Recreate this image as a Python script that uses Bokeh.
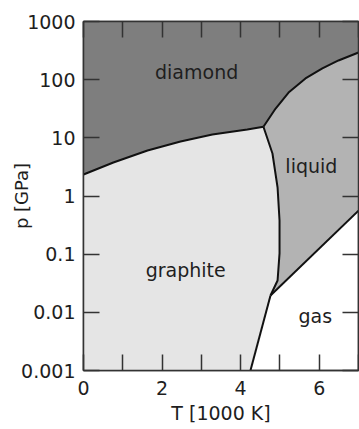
from bokeh.plotting import figure
from bokeh.models import FixedTicker, LinearAxis, LogAxis, Range1d, ColumnDataSource
from bokeh.core.properties import value
from bokeh.embed import file_html
from bokeh.resources import INLINE

# ---- data: phase boundaries (T in 1000 K, p in GPa) ----
dg_T = [0.0, 0.76, 1.63, 2.47, 3.28, 4.17, 4.58]          # diamond / graphite
dg_p = [2.34, 3.77, 6.05, 8.65, 11.4, 13.9, 15.5]
dl_T = [4.58, 4.89, 5.22, 5.65, 6.08, 6.49, 7.0]          # diamond / liquid
dl_p = [15.5, 31.9, 60.0, 105.0, 156.0, 214.0, 293.0]
gl_T = [4.58, 4.81, 4.94, 4.99, 4.99, 4.94, 4.76]         # graphite / liquid
gl_p = [15.5, 5.38, 1.40, 0.379, 0.103, 0.0353, 0.0195]
gg_T = [4.76, 4.25]                                        # graphite / gas
gg_p = [0.0195, 0.001]
lg_T = [4.76, 7.0]                                         # liquid / gas
lg_p = [0.0195, 0.56]

phase_names = ["diamond", "liquid", "graphite", "gas"]
label_T = [2.88, 5.80, 2.60, 5.90]
label_p = [133.0, 3.34, 0.0525, 0.0085]

x_ticks = [0, 1, 2, 3, 4, 5, 6, 7]
x_labels = {0: "0", 1: "", 2: "2", 3: "", 4: "4", 5: "", 6: "6", 7: ""}
y_ticks = [0.001, 0.01, 0.1, 1, 10, 100, 1000]
y_labels = {0.001: "0.001", 0.01: "0.01", 0.1: "0.1", 1: "1", 10: "10", 100: "100", 1000: "1000"}

T_MIN, T_MAX = 0, 7
P_MIN, P_MAX = 0.001, 1000

FONT = "DejaVu Sans"
FS = "19px"
TXT = "#1e1e1e"
AX = "#333333"

p = figure(width=359, height=429, output_backend="svg", toolbar_location=None,
           x_range=Range1d(T_MIN, T_MAX), y_range=Range1d(P_MIN, P_MAX),
           y_axis_type="log", min_border_left=83, min_border_right=1,
           min_border_top=21, min_border_bottom=59)
p.grid.visible = False
p.background_fill_color = "white"
p.border_fill_color = "white"
p.outline_line_color = AX
p.outline_line_width = 1.5

# ---- regions ----
diamond_x = [T_MIN] + dg_T + dl_T[1:] + [T_MAX]
diamond_y = [P_MAX] + dg_p + dl_p[1:] + [P_MAX]
graphite_x = [T_MIN] + dg_T + gl_T[1:] + gg_T[1:]
graphite_y = [P_MIN] + dg_p + gl_p[1:] + gg_p[1:]
liquid_x = dl_T + lg_T[::-1] + gl_T[::-1][1:]
liquid_y = dl_p + lg_p[::-1] + gl_p[::-1][1:]

p.patches(xs=[diamond_x, graphite_x, liquid_x], ys=[diamond_y, graphite_y, liquid_y],
          fill_color=["#7e7e7e", "#e5e5e5", "#b3b3b3"], line_color=None, level="underlay")

p.multi_line(xs=[dg_T, dl_T, gl_T, gg_T, lg_T], ys=[dg_p, dl_p, gl_p, gg_p, lg_p],
             line_color="#111111", line_width=2)

src = ColumnDataSource(dict(x=label_T, y=label_p, t=phase_names))
p.text(x="x", y="y", text="t", source=src, text_align="center", text_baseline="middle",
       text_font=value(FONT), text_font_size=FS, text_color=TXT)

# ---- axes ----
def style(ax, labels=True):
    ax.level = "overlay"
    ax.major_tick_in = 16
    ax.major_tick_out = 0
    ax.minor_tick_in = 0
    ax.minor_tick_out = 0
    ax.major_tick_line_color = AX
    ax.major_tick_line_width = 1.5
    ax.axis_line_color = AX
    ax.axis_line_width = 1.5
    if labels:
        ax.major_label_text_font = FONT
        ax.major_label_text_font_size = FS
        ax.major_label_text_color = TXT
        ax.axis_label_text_font = FONT
        ax.axis_label_text_font_size = FS
        ax.axis_label_text_font_style = "normal"
        ax.axis_label_text_color = TXT
    else:
        ax.major_label_text_font_size = "0px"
        ax.major_label_standoff = 0

xa = p.xaxis[0]
xa.ticker = FixedTicker(ticks=x_ticks, minor_ticks=[])
xa.major_label_overrides = x_labels
xa.axis_label = "T [1000 K]"
style(xa)
xa.major_label_standoff = 10
xa.axis_label_standoff = 4

ya = p.yaxis[0]
ya.ticker = FixedTicker(ticks=y_ticks, minor_ticks=[])
ya.major_label_overrides = y_labels
ya.axis_label = "p [GPa]"
style(ya)
ya.axis_label_text_font_size = "18px"
ya.major_label_standoff = 8
ya.axis_label_standoff = -14

top = LinearAxis(ticker=FixedTicker(ticks=x_ticks, minor_ticks=[]))
style(top, labels=False)
top.major_label_overrides = {t: "" for t in x_ticks}
p.add_layout(top, "above")

right = LogAxis(ticker=FixedTicker(ticks=y_ticks, minor_ticks=[]))
style(right, labels=False)
right.major_label_overrides = {t: "" for t in y_ticks}
p.add_layout(right, "right")

open("out.html", "w").write(file_html(p, INLINE))
